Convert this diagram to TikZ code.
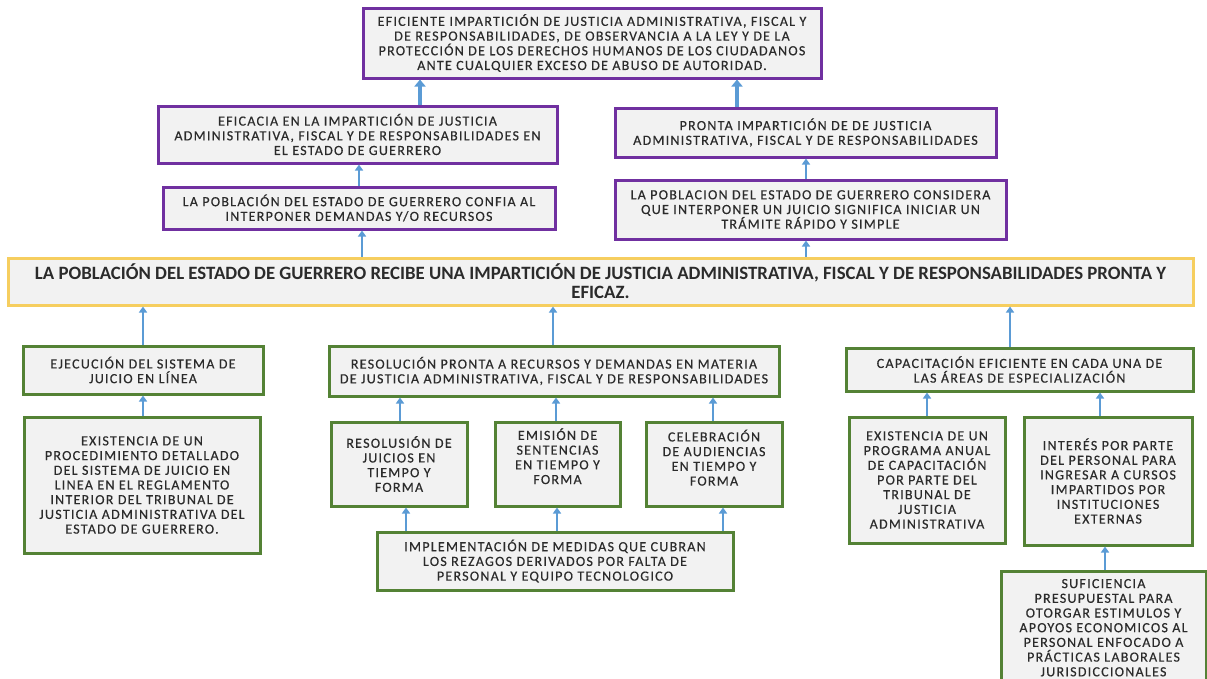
\documentclass[tikz,border=0pt]{standalone}
\usepackage{fontspec}
\setmainfont{Carlito}
\newfontfamily\bx{Carlito}[LetterSpace=9, FakeBold=0.4]
\newfontfamily\bm{Carlito}
\usetikzlibrary{arrows.meta}
\definecolor{purp}{HTML}{7030A0}
\definecolor{grn}{HTML}{548235}
\definecolor{yel}{HTML}{F6CE5F}
\definecolor{boxfill}{HTML}{F2F2F2}
\definecolor{arr}{HTML}{5B9BD5}
\definecolor{txt}{HTML}{2B2B2B}
\tikzset{
  basebox/.style={draw, fill=boxfill, line width=3pt, align=center, inner sep=0pt, text=txt,
    font=\bx\fontsize{14}{14.7}\selectfont},
  pbox/.style={basebox, draw=purp},
  gbox/.style={basebox, draw=grn},
  ybox/.style={basebox, draw=yel, font=\bm\bfseries\fontsize{18.8}{19}\selectfont},
  thinarr/.style={draw=arr, line width=2.2pt, -{Triangle[width=8pt,length=6pt]}},
  thickarr/.style={draw=arr, line width=4pt, -{Triangle[width=11pt,length=7pt]}},
}
\begin{document}
\begin{tikzpicture}[x=1pt,y=-1pt]
\useasboundingbox (0,0) rectangle (1207,678);
\clip (0,0) rectangle (1207,678);
% purple boxes
\node[pbox, minimum width=458, minimum height=70] (top) at (592,43)
 {EFICIENTE IMPARTICIÓN DE JUSTICIA ADMINISTRATIVA, FISCAL Y\\DE RESPONSABILIDADES, DE OBSERVANCIA A LA LEY Y DE LA\\PROTECCIÓN DE LOS DERECHOS HUMANOS DE LOS CIUDADANOS\\ANTE CUALQUIER EXCESO DE ABUSO DE AUTORIDAD.};
\node[pbox, minimum width=399, minimum height=57] (efi) at (357.5,134.5)
 {EFICACIA EN LA IMPARTICIÓN DE JUSTICIA\\ADMINISTRATIVA, FISCAL Y DE RESPONSABILIDADES EN\\EL ESTADO DE GUERRERO};
\node[pbox, minimum width=381, minimum height=49] (pro) at (805.5,132.5)
 {PRONTA IMPARTICIÓN DE DE JUSTICIA\\ADMINISTRATIVA, FISCAL Y DE RESPONSABILIDADES};
\node[pbox, minimum width=392, minimum height=42] (conf) at (359,208)
 {LA POBLACIÓN DEL ESTADO DE GUERRERO CONFIA AL\\INTERPONER DEMANDAS Y/O RECURSOS};
\node[pbox, minimum width=391, minimum height=59] (cons) at (810.5,209.5)
 {LA POBLACION DEL ESTADO DE GUERRERO CONSIDERA\\QUE INTERPONER UN JUICIO SIGNIFICA INICIAR UN\\TRÁMITE RÁPIDO Y SIMPLE};
% main
\node[ybox, minimum width=1185, minimum height=47] (main) at (600.5,281.5)
 {LA POBLACIÓN DEL ESTADO DE GUERRERO RECIBE UNA IMPARTICIÓN DE JUSTICIA ADMINISTRATIVA, FISCAL Y DE RESPONSABILIDADES PRONTA Y\\EFICAZ.};
% green boxes
\node[gbox, minimum width=240, minimum height=48] (eje) at (143,370)
 {EJECUCIÓN DEL SISTEMA DE\\JUICIO EN LÍNEA};
\node[gbox, minimum width=236, minimum height=136] (exi) at (142,485)
 {EXISTENCIA DE UN\\PROCEDIMIENTO DETALLADO\\DEL SISTEMA DE JUICIO EN\\LINEA EN EL REGLAMENTO\\INTERIOR DEL TRIBUNAL DE\\JUSTICIA ADMINISTRATIVA DEL\\ESTADO DE GUERRERO.};
\node[gbox, minimum width=450, minimum height=50] (res) at (554,371)
 {RESOLUCIÓN PRONTA A RECURSOS Y DEMANDAS EN MATERIA\\DE JUSTICIA ADMINISTRATIVA, FISCAL Y DE RESPONSABILIDADES};
\node[gbox, minimum width=136, minimum height=84] (rju) at (399,464)
 {RESOLUSIÓN DE\\JUICIOS EN\\TIEMPO Y\\FORMA};
\node[gbox, minimum width=125, minimum height=84] (emi) at (557.5,464)
 {EMISIÓN DE\\SENTENCIAS\\EN TIEMPO Y\\FORMA\\[1pt]};
\node[gbox, minimum width=136, minimum height=84] (cel) at (714,464)
 {CELEBRACIÓN\\DE AUDIENCIAS\\EN TIEMPO Y\\FORMA\\[-2pt]};
\node[gbox, minimum width=356, minimum height=58] (imp) at (555,561)
 {IMPLEMENTACIÓN DE MEDIDAS QUE CUBRAN\\LOS REZAGOS DERIVADOS POR FALTA DE\\PERSONAL Y EQUIPO TECNOLOGICO};
\node[gbox, minimum width=347, minimum height=43] (cap) at (1019.5,369.5)
 {CAPACITACIÓN EFICIENTE EN CADA UNA DE\\LAS ÁREAS DE ESPECIALIZACIÓN};
\node[gbox, minimum width=156, minimum height=126] (prog) at (927,480)
 {EXISTENCIA DE UN\\PROGRAMA ANUAL\\DE CAPACITACIÓN\\POR PARTE DEL\\TRIBUNAL DE\\JUSTICIA\\ADMINISTRATIVA};
\node[gbox, minimum width=168, minimum height=128] (int) at (1108,481)
 {INTERÉS POR PARTE\\DEL PERSONAL PARA\\INGRESAR A CURSOS\\IMPARTIDOS POR\\INSTITUCIONES\\EXTERNAS};
\node[gbox, minimum width=205, minimum height=124] (suf) at (1103.5,633)
 {SUFICIENCIA\\PRESUPUESTAL PARA\\OTORGAR ESTIMULOS Y\\APOYOS ECONOMICOS AL\\PERSONAL ENFOCADO A\\PRÁCTICAS LABORALES\\JURISDICCIONALES\\[-4pt]};
% arrows
\draw[thickarr] (efi.north -| 420,0) -- (top.south -| 420,0);
\draw[thickarr] (pro.north -| 737,0) -- (top.south -| 737,0);
\draw[thinarr] (conf.north -| 359,0) -- (efi.south -| 359,0);
\draw[thinarr] (cons.north -| 806,0) -- (pro.south -| 806,0);
\draw[thinarr] (main.north -| 362,0) -- (conf.south -| 362,0);
\draw[thinarr] (main.north -| 806,0) -- (cons.south -| 806,0);
\draw[thinarr] (eje.north -| 143,0) -- (main.south -| 143,0);
\draw[thinarr] (res.north -| 553,0) -- (main.south -| 553,0);
\draw[thinarr] (cap.north -| 1010,0) -- (main.south -| 1010,0);
\draw[thinarr] (exi.north -| 143,0) -- (eje.south -| 143,0);
\draw[thinarr] (rju.north -| 400,0) -- (res.south -| 400,0);
\draw[thinarr] (emi.north -| 556,0) -- (res.south -| 556,0);
\draw[thinarr] (cel.north -| 713,0) -- (res.south -| 713,0);
\draw[thinarr] (imp.north -| 406,0) -- (rju.south -| 406,0);
\draw[thinarr] (imp.north -| 557,0) -- (emi.south -| 557,0);
\draw[thinarr] (imp.north -| 723,0) -- (cel.south -| 723,0);
\draw[thinarr] (prog.north -| 927,0) -- (cap.south -| 927,0);
\draw[thinarr] (int.north -| 1100,0) -- (cap.south -| 1100,0);
\draw[thinarr] (suf.north -| 1105,0) -- (int.south -| 1105,0);
\end{tikzpicture}
\end{document}
